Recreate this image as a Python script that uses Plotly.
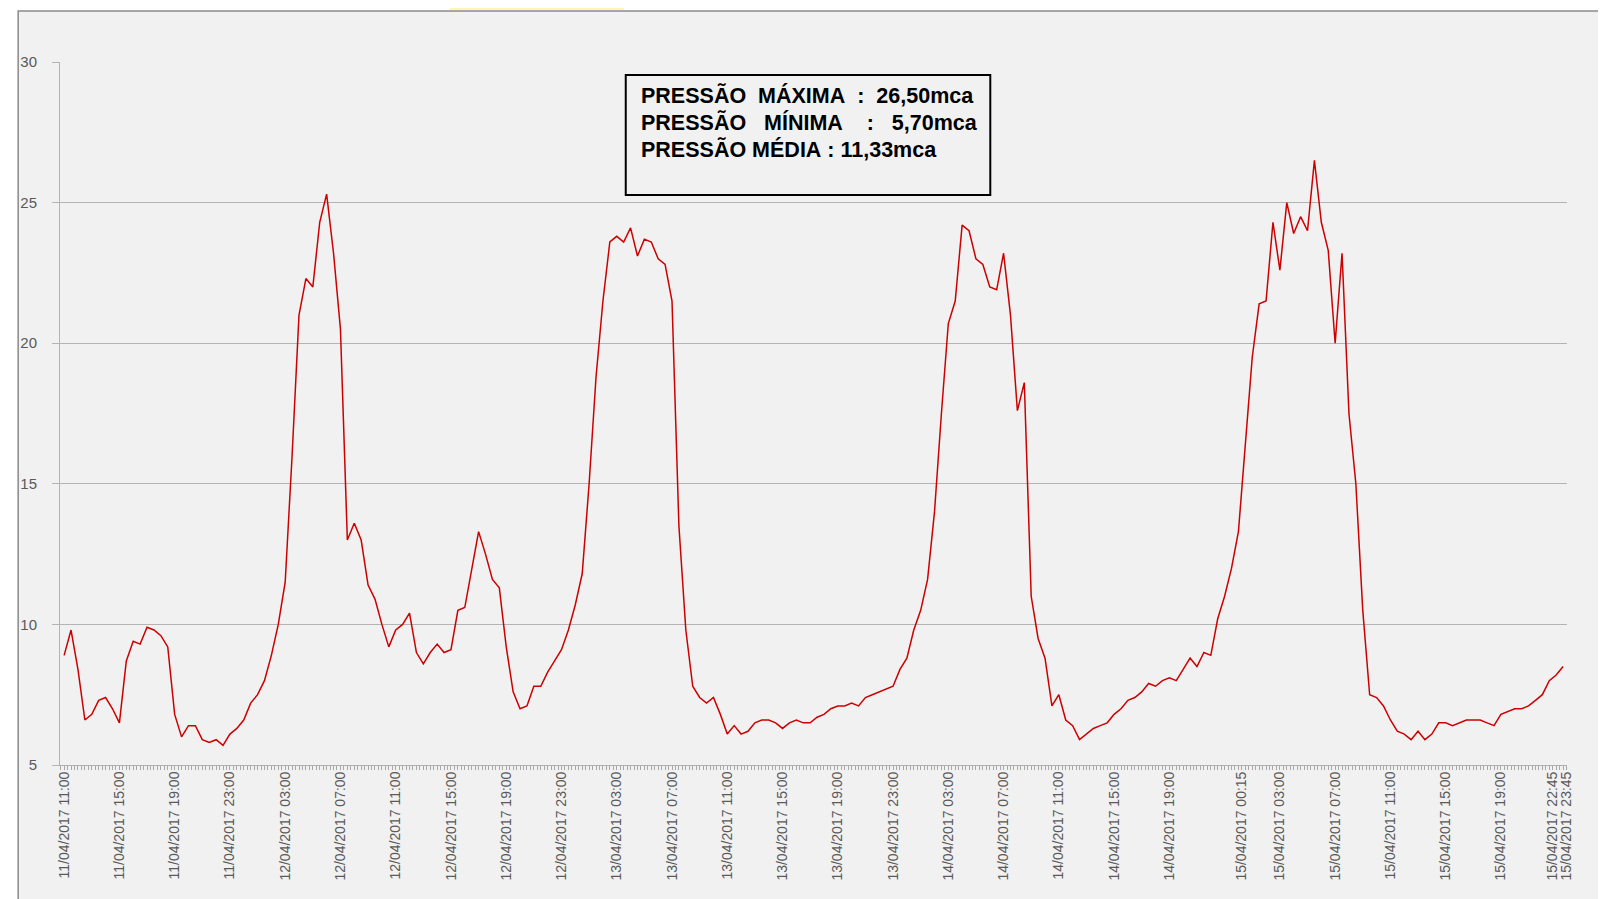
import pandas as pd
import plotly.graph_objects as go

# leituras de pressao (mca) a cada 30 min, a partir de 11/04/2017 11:00
inicio = "2017-04-11 11:00"
pressao = [
    8.9, 9.8, 8.4, 6.6, 6.8, 7.3, 7.4, 7.0, 6.5, 8.7,
    9.4, 9.3, 9.9, 9.8, 9.6, 9.2, 6.8, 6.0, 6.4, 6.4,
    5.9, 5.8, 5.9, 5.7, 6.1, 6.3, 6.6, 7.2, 7.5, 8.0,
    8.9, 10.0, 11.5, 16.0, 21.0, 22.3, 22.0, 24.3, 25.3, 23.2,
    20.5, 13.0, 13.6, 13.0, 11.4, 10.9, 10.0, 9.2, 9.8, 10.0,
    10.4, 9.0, 8.6, 9.0, 9.3, 9.0, 9.1, 10.5, 10.6, 12.0,
    13.3, 12.5, 11.6, 11.3, 9.2, 7.6, 7.0, 7.1, 7.8, 7.8,
    8.3, 8.7, 9.1, 9.8, 10.7, 11.8, 15.0, 18.8, 21.5, 23.6,
    23.8, 23.6, 24.1, 23.1, 23.7, 23.6, 23.0, 22.8, 21.5, 13.5,
    9.8, 7.8, 7.4, 7.2, 7.4, 6.8, 6.1, 6.4, 6.1, 6.2,
    6.5, 6.6, 6.6, 6.5, 6.3, 6.5, 6.6, 6.5, 6.5, 6.7,
    6.8, 7.0, 7.1, 7.1, 7.2, 7.1, 7.4, 7.5, 7.6, 7.7,
    7.8, 8.4, 8.8, 9.8, 10.5, 11.6, 14.0, 17.5, 20.7, 21.5,
    24.2, 24.0, 23.0, 22.8, 22.0, 21.9, 23.2, 21.0, 17.6, 18.6,
    11.0, 9.5, 8.8, 7.1, 7.5, 6.6, 6.4, 5.9, 6.1, 6.3,
    6.4, 6.5, 6.8, 7.0, 7.3, 7.4, 7.6, 7.9, 7.8, 8.0,
    8.1, 8.0, 8.4, 8.8, 8.5, 9.0, 8.9, 10.2, 11.0, 12.0,
    13.3, 16.5, 19.5, 21.4, 21.5, 24.3, 22.6, 25.0, 23.9, 24.5,
    24.0, 26.5, 24.3, 23.3, 20.0, 23.2, 17.5, 15.0, 10.5, 7.5,
    7.4, 7.1, 6.6, 6.2, 6.1, 5.9, 6.2, 5.9, 6.1, 6.5,
    6.5, 6.4, 6.5, 6.6, 6.6, 6.6, 6.5, 6.4, 6.8, 6.9,
    7.0, 7.0, 7.1, 7.3, 7.5, 8.0, 8.2, 8.5,
]
horarios = pd.date_range(inicio, periods=len(pressao), freq="30min")

rotulos_pos = [
    "2017-04-11 11:00", "2017-04-11 15:00", "2017-04-11 19:00", "2017-04-11 23:00",
    "2017-04-12 03:00", "2017-04-12 07:00", "2017-04-12 11:00", "2017-04-12 15:00",
    "2017-04-12 19:00", "2017-04-12 23:00", "2017-04-13 03:00", "2017-04-13 07:00",
    "2017-04-13 11:00", "2017-04-13 15:00", "2017-04-13 19:00", "2017-04-13 23:00",
    "2017-04-14 03:00", "2017-04-14 07:00", "2017-04-14 11:00", "2017-04-14 15:00",
    "2017-04-14 19:00", "2017-04-15 00:15", "2017-04-15 03:00", "2017-04-15 07:00",
    "2017-04-15 11:00", "2017-04-15 15:00", "2017-04-15 19:00", "2017-04-15 22:45",
    "2017-04-15 23:45",
]
rotulos_txt = [pd.Timestamp(r).strftime("%d/%m/%Y %H:%M") for r in rotulos_pos]

resumo = [
    "PRESSÃO  MÁXIMA  :  26,50mca",
    "PRESSÃO   MÍNIMA    :   5,70mca",
    "PRESSÃO MÉDIA : 11,33mca",
]

# a pagina tem 8px de margem no body, descontados aqui
OFF = 8
W, H = 1598, 891
L, R, T, B = 54 - OFF, 39, 62 - OFF, 134
pw, ph = W - L - R, H - T - B


def px(x):
    return (x - OFF - L) / pw


def py(y):
    return (H - B - (y - OFF)) / ph


fig = go.Figure()

fig.add_trace(go.Scatter(
    x=horarios,
    y=pressao,
    mode="lines",
    line=dict(color="#cc0000", width=1.5),
    showlegend=False,
))

# moldura cinza do grafico
fig.add_shape(type="rect", xref="paper", yref="paper",
              x0=px(12), x1=px(1640), y0=py(930), y1=py(11),
              fillcolor="#f1f1f1", line=dict(color="#8a8a8a", width=1.5),
              layer="below")
fig.add_shape(type="rect", xref="paper", yref="paper",
              x0=px(445), x1=px(620), y0=py(10), y1=py(0),
              fillcolor="#fff6b0", line=dict(width=0), layer="below")

# caixa com o resumo
fig.add_shape(type="rect", xref="paper", yref="paper",
              x0=px(622), x1=px(988), y0=py(195), y1=py(75),
              fillcolor="#f1f1f1", line=dict(color="black", width=2))
for linha, ypix in zip(resumo, [96, 123, 150]):
    fig.add_annotation(
        text="<b>" + linha.replace(" ", "\u00a0") + "</b>",
        xref="paper", yref="paper",
        x=px(635), y=py(ypix),
        xanchor="left", yanchor="middle",
        showarrow=False,
        font=dict(size=21.5, color="black", family="Liberation Sans, Arial"),
    )

fig.update_layout(
    width=W, height=H,
    margin=dict(l=L, r=R, t=T, b=B),
    paper_bgcolor="white",
    plot_bgcolor="#f1f1f1",
    font=dict(family="Liberation Sans, Arial", size=14, color="#595959"),
)

fig.update_xaxes(
    type="date",
    range=["2017-04-11 10:42", "2017-04-15 23:47"],
    tickmode="array",
    tickvals=rotulos_pos,
    ticktext=rotulos_txt,
    tickangle=-90,
    tickfont=dict(size=14, color="#595959"),
    ticks="",
    showgrid=False,
    showline=True,
    linecolor="#b0b0b0",
    zeroline=False,
    minor=dict(dtick=15 * 60 * 1000, tick0="2017-04-11 11:00",
               ticks="outside", ticklen=4, tickcolor="#a8a8a8", showgrid=False),
)
fig.update_yaxes(
    range=[5, 30],
    dtick=5,
    showgrid=True,
    gridcolor="#b4b4b4",
    gridwidth=1,
    showline=True,
    linecolor="#b4b4b4",
    ticks="outside",
    ticklen=7,
    tickcolor="#b4b4b4",
    ticklabelstandoff=12,
    tickfont=dict(size=15, color="#595959"),
    zeroline=False,
)

fig.write_html("out.html")
